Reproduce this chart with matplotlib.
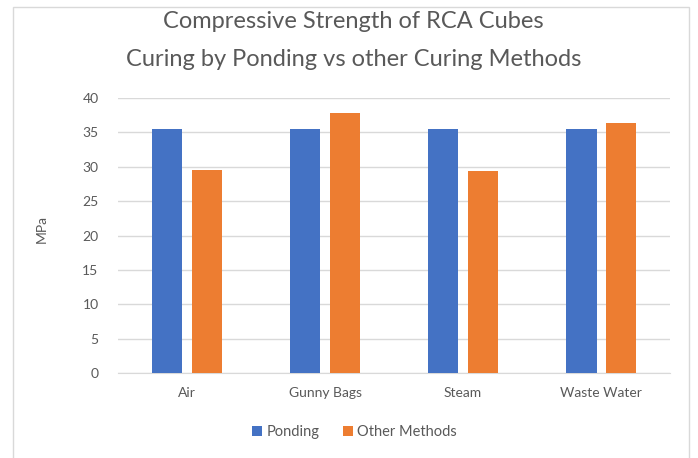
import numpy as np
import matplotlib.pyplot as plt
from matplotlib.patches import Rectangle

categories = ['Air', 'Gunny Bags', 'Steam', 'Waste Water']
ponding = [35.5, 35.5, 35.5, 35.5]
other_methods = [29.5, 37.8, 29.4, 36.3]
y_ticks = [0, 5, 10, 15, 20, 25, 30, 35, 40]

blue = '#4472C4'
orange = '#ED7D31'
text_col = '#595959'

plt.rcParams['font.family'] = ['Lato', 'DejaVu Sans']

fig = plt.figure(figsize=(6.98, 4.58), dpi=100)
ax = fig.add_axes([0.169, 0.1856, 0.791, 0.6004])

x = np.arange(len(categories))
w = 0.22
off = 0.143
ax.bar(x - off, ponding, w, color=blue, label='Ponding', zorder=3)
ax.bar(x + off, other_methods, w, color=orange, label='Other Methods', zorder=3)

ax.set_xlim(-0.5, len(categories) - 0.5)
ax.set_ylim(0, 40)
ax.set_yticks(y_ticks)
ax.set_xticks(x)
ax.set_xticklabels(categories)
ax.tick_params(axis='both', length=0, colors=text_col, labelsize=10)
ax.tick_params(axis='x', pad=10)
ax.tick_params(axis='y', pad=14)
ax.yaxis.grid(True, color='#D9D9D9', linewidth=1, zorder=0)
for side in ['top', 'right', 'left']:
    ax.spines[side].set_visible(False)
ax.spines['bottom'].set_color('#D9D9D9')

fig.text(0.06, 0.5, 'MPa', rotation=90, ha='center', va='center',
         color=text_col, fontsize=10)
fig.text(0.506, 0.952, 'Compressive Strength of RCA Cubes', ha='center', va='center',
         color=text_col, fontsize=17)
fig.text(0.506, 0.869, 'Curing by Ponding vs other Curing Methods', ha='center', va='center',
         color=text_col, fontsize=17)

fig.legend(loc='center', bbox_to_anchor=(0.508, 0.057), ncol=2, frameon=False,
           fontsize=10.5, labelcolor=text_col, handlelength=0.7, handleheight=0.7,
           handletextpad=0.3, columnspacing=1.6)

fig.patches.append(Rectangle((0.0186, -0.1), 0.968, 1.085, transform=fig.transFigure,
                             fill=False, edgecolor='#D9D9D9', linewidth=1))

fig.savefig('out.png', dpi=100)
